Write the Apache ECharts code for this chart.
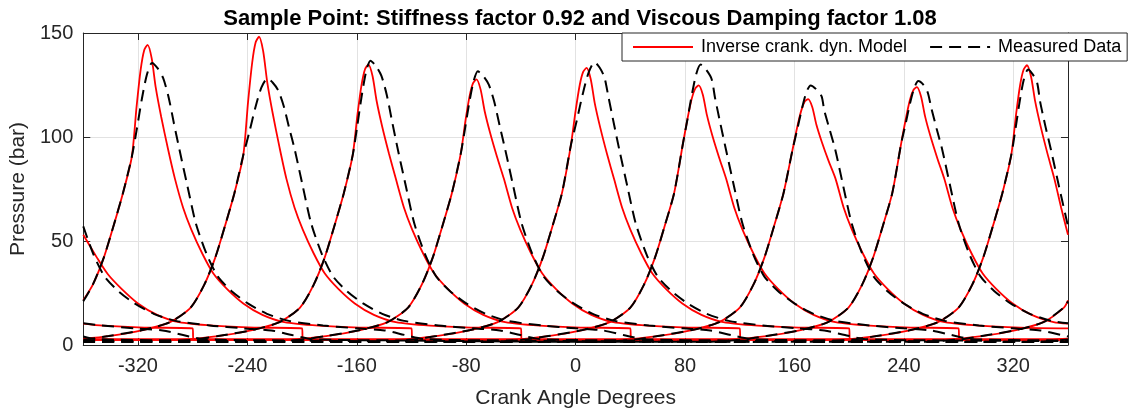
<!DOCTYPE html>
<html>
<head>
<meta charset="utf-8">
<script src="https://cdn.jsdelivr.net/npm/echarts@6/dist/echarts.min.js"></script>
<style>
html,body{margin:0;padding:0;background:#fff;}
#chart{width:1131px;height:414px;}
</style>
</head>
<body>
<div id="chart"></div>
<script>
// Tick labels
const xTicks = [-320, -240, -160, -80, 0, 80, 160, 240, 320];
const yTicks = [0, 50, 100, 150];

// Inverse crank. dyn. Model (one array per cylinder, [crank angle, pressure bar])
const model1 = [[-360,21.5],[-353,29],[-345,42],[-338,57],[-331,73],[-324.5,90.5],[-321,114.7],[-318,132.5],[-315.5,141.6],[-313,144.3],[-310,137.9],[-307,123.7],[-303,109.6],[-298,94.1],[-293,80],[-287,66],[-281,55.5],[-273,44],[-265,34.5],[-255,27],[-243,20],[-229,14.5],[-213,11],[-188,9.3],[-158,8.4],[-120,8.0],[-119.5,2.6],[267,2.6],[297,4.3],[322,7.2],[342,11],[357,18],[360,21.5]];
const model2 = [[-360,3.0],[-341.5,4.3],[-316.5,7.2],[-296.5,11],[-281.5,18],[-271.5,29],[-263.5,42],[-256.5,57],[-249.5,73],[-243,91.3],[-239.5,116.9],[-236.5,135.7],[-234,145.4],[-231.5,148.2],[-228.5,141.4],[-225.5,126.4],[-221.5,111.4],[-216.5,95.0],[-211.5,80],[-205.5,66],[-199.5,55.5],[-191.5,44],[-183.5,34.5],[-173.5,27],[-161.5,20],[-147.5,14.5],[-131.5,11],[-106.5,9.3],[-76.5,8.4],[-40,8.0],[-39.5,2.6],[348.5,2.6],[360,3.0]];
const model3 = [[-360,2.6],[-291.5,2.6],[-261.5,4.3],[-236.5,7.2],[-216.5,11],[-201.5,18],[-191.5,29],[-183.5,42],[-176.5,57],[-169.5,73],[-163,91.3],[-159.5,110.9],[-156.5,125.2],[-154,132.6],[-151.5,134.8],[-148.5,129.3],[-145.5,117.3],[-141.5,105.2],[-136.5,92.1],[-131.5,80],[-125.5,66],[-119.5,55.5],[-111.5,44],[-103.5,34.5],[-93.5,27],[-81.5,20],[-67.5,14.5],[-51.5,11],[-26.5,9.3],[3.5,8.4],[40,8.0],[40.5,2.6],[360,2.6]];
const model4 = [[-360,2.6],[-212.5,2.6],[-182.5,4.3],[-157.5,7.2],[-137.5,11],[-122.5,18],[-112.5,29],[-104.5,42],[-97.5,57],[-90.5,73],[-84,92],[-80.5,108.1],[-77.5,119.8],[-75,125.9],[-72.5,127.7],[-69.5,122.9],[-66.5,112.4],[-62.5,101.9],[-57.5,90.5],[-52.5,80],[-46.5,66],[-40.5,55.5],[-32.5,44],[-24.5,34.5],[-14.5,27],[-2.5,20],[11.5,14.5],[27.5,11],[52.5,9.3],[82.5,8.4],[120,8.0],[120.5,2.6],[360,2.6]];
const model5 = [[-360,2.6],[-132,2.6],[-102,4.3],[-77,7.2],[-57,11],[-42,18],[-32,29],[-24,42],[-17,57],[-10,73],[-3.5,96],[0,112.7],[3,125],[5.5,131.3],[8,133.2],[11,127.9],[14,116.2],[18,104.5],[23,91.7],[28,80],[34,66],[40,55.5],[48,44],[56,34.5],[66,27],[78,20],[92,14.5],[108,11],[133,9.3],[163,8.4],[200,8.0],[200.5,2.6],[360,2.6]];
const model6 = [[-360,2.6],[-50,2.6],[-20,4.3],[5,7.2],[25,11],[40,18],[50,29],[58,42],[65,57],[72,73],[78.5,97],[82,109.5],[85,118.7],[87.5,123.4],[90,124.8],[93,120.3],[96,110.5],[100,100.6],[105,89.9],[110,80],[116,66],[122,55.5],[130,44],[138,34.5],[148,27],[160,20],[174,14.5],[190,11],[215,9.3],[245,8.4],[280,8.0],[280.5,2.6],[360,2.6]];
const model7 = [[-360,2.6],[30,2.6],[60,4.3],[85,7.2],[105,11],[120,18],[130,29],[138,42],[145,57],[152,73],[158.5,93.6],[162,104.7],[165,112.8],[167.5,117],[170,118.2],[173,114.4],[176,106],[180,97.6],[185,88.4],[190,80],[196,66],[202,55.5],[210,44],[218,34.5],[228,27],[240,20],[254,14.5],[270,11],[295,9.3],[325,8.4],[360,8.0]];
const model8 = [[-360,10.3],[-345.5,9.3],[-315.5,8.4],[-280,8.0],[-279.5,2.6],[109.5,2.6],[139.5,4.3],[164.5,7.2],[184.5,11],[199.5,18],[209.5,29],[217.5,42],[224.5,57],[231.5,73],[238,96.8],[241.5,109],[244.5,118],[247,122.6],[249.5,124],[252.5,119.6],[255.5,109.9],[259.5,100.2],[264.5,89.7],[269.5,80],[275.5,66],[281.5,55.5],[289.5,44],[297.5,34.5],[307.5,27],[319.5,20],[333.5,14.5],[349.5,11],[360,10.3]];
const model9 = [[-360,53],[-350,42],[-342,34],[-332,27],[-320,20],[-306,14.5],[-290,11],[-265,9.3],[-235,8.4],[-200,8.0],[-199.5,2.6],[190,2.6],[220,4.3],[245,7.2],[265,11],[280,18],[290,29],[298,42],[305,57],[312,73],[318.5,91.3],[322,110.7],[325,125],[327.5,132.3],[330,134.5],[333,129],[336,117.1],[340,105.1],[345,92],[350,80],[355,66],[360,53]];

// Measured Data (one array per cylinder, [crank angle, pressure bar])
const meas1 = [[-360,21],[-353,29],[-345,42],[-338,57],[-331,73],[-324.5,90.5],[-320.8,104],[-317.1,118.5],[-313.4,130.2],[-309.7,135.6],[-305.7,133.1],[-301.7,128.5],[-297.7,119.4],[-293.7,106.5],[-289.7,94],[-283.7,76],[-277.7,58.5],[-269.7,43.5],[-261.7,33],[-251.7,26],[-239.7,20],[-225.7,15],[-209.7,11.6],[-184.7,9.4],[-159.7,8],[-139.7,7],[-124.7,4.8],[-109.7,2.8],[-49.7,2.2],[90.3,1.5],[257,1.6],[282,2.8],[297,4.3],[322,7.2],[342,11],[357,18],[360,21]];
const meas2 = [[-360,2.6],[-356.5,2.8],[-341.5,4.3],[-316.5,7.2],[-296.5,11],[-281.5,18],[-271.5,29],[-263.5,42],[-256.5,57],[-249.5,73],[-243,91.3],[-238.6,102.3],[-234.2,114.1],[-229.8,123.7],[-225.4,128.1],[-221.4,126.1],[-217.4,122.3],[-213.4,114.8],[-209.4,104.2],[-205.4,94],[-199.4,76],[-193.4,58.5],[-185.4,43.5],[-177.4,33],[-167.4,26],[-155.4,20],[-141.4,15],[-125.4,11.6],[-100.4,9.4],[-75.4,8],[-55.4,7],[-40.4,4.8],[-25.4,2.8],[34.6,2.2],[174.6,1.5],[338.5,1.6],[360,2.6]];
const meas3 = [[-360,1.5],[-301.5,1.6],[-276.5,2.8],[-261.5,4.3],[-236.5,7.2],[-216.5,11],[-201.5,18],[-191.5,29],[-183.5,42],[-176.5,57],[-169.5,73],[-163,91.3],[-159.75,104.9],[-156.5,119.4],[-153.25,131.3],[-150,136.7],[-146,134.1],[-142,129.4],[-138,120],[-134,106.8],[-130,94],[-124,76],[-118,58.5],[-110,43.5],[-102,33],[-92,26],[-80,20],[-66,15],[-50,11.6],[-25,9.4],[0,8],[20,7],[35,4.8],[50,2.8],[110,2.2],[250,1.5],[360,1.5]];
const meas4 = [[-360,1.5],[-222.5,1.6],[-197.5,2.8],[-182.5,4.3],[-157.5,7.2],[-137.5,11],[-122.5,18],[-112.5,29],[-104.5,42],[-97.5,57],[-90.5,73],[-84,92],[-80.9,103.9],[-77.75,116.6],[-74.6,126.8],[-71.5,131.6],[-67.5,129.3],[-63.5,125.2],[-59.5,116.9],[-55.5,105.3],[-51.5,94],[-45.5,76],[-39.5,58.5],[-31.5,43.5],[-23.5,33],[-13.5,26],[-1.5,20],[12.5,15],[28.5,11.6],[53.5,9.4],[78.5,8],[98.5,7],[113.5,4.8],[128.5,2.8],[188.5,2.2],[328.5,1.5],[360,1.5]];
const meas5 = [[-360,1.9],[-306.1,1.5],[-142,1.6],[-117,2.8],[-102,4.3],[-77,7.2],[-57,11],[-42,18],[-32,29],[-24,42],[-17,57],[-10,73],[-3.5,96],[0.85,108],[5.2,120.7],[9.55,131.1],[13.9,135.9],[17.5,133.4],[21,128.8],[23.9,119.6],[27.9,106.6],[31.9,94],[37.9,76],[43.9,58.5],[51.9,43.5],[59.9,33],[69.9,26],[81.9,20],[95.9,15],[111.9,11.6],[136.9,9.4],[161.9,8],[181.9,7],[196.9,4.8],[211.9,2.8],[271.9,2.2],[360,1.9]];
const meas6 = [[-360,2.1],[-228.6,1.5],[-60,1.6],[-35,2.8],[-20,4.3],[5,7.2],[25,11],[40,18],[50,29],[58,42],[65,57],[72,73],[78.5,97],[81.7,108.3],[85,120.4],[88.2,130.3],[91.4,134.8],[95.4,132.4],[99.4,127.9],[101.9,118.9],[105.9,106.2],[109.9,94],[115.9,76],[121.9,58.5],[129.9,43.5],[137.9,33],[147.9,26],[159.9,20],[173.9,15],[189.9,11.6],[214.9,9.4],[239.9,8],[259.9,7],[274.9,4.8],[289.9,2.8],[349.9,2.2],[360,2.1]];
const meas7 = [[-360,4.1],[-350.2,2.8],[-290.2,2.2],[-150.2,1.5],[20,1.6],[45,2.8],[60,4.3],[85,7.2],[105,11],[120,18],[130,29],[138,42],[145,57],[152,73],[158.5,93.6],[161.8,103],[165.2,112.9],[168.5,121.1],[171.8,124.8],[175.8,123],[179.8,119.6],[181.8,112.8],[185.8,103.4],[189.8,94],[195.8,76],[201.8,58.5],[209.8,43.5],[217.8,33],[227.8,26],[239.8,20],[253.8,15],[269.8,11.6],[294.8,9.4],[319.8,8],[339.8,7],[354.8,4.8],[360,4.1]];
const meas8 = [[-360,10.5],[-347,9.4],[-322,8],[-302,7],[-287,4.8],[-272,2.8],[-212,2.2],[-72,1.5],[99.5,1.6],[124.5,2.8],[139.5,4.3],[164.5,7.2],[184.5,11],[199.5,18],[209.5,29],[217.5,42],[224.5,57],[231.5,73],[238,96.8],[241.1,105.8],[244.25,115.5],[247.4,123.3],[250.5,126.9],[254.5,124.9],[257.5,121.3],[260,114.1],[264,103.9],[268,94],[274,76],[280,58.5],[288,43.5],[296,33],[306,26],[318,20],[332,15],[348,11.6],[360,10.5]];
const meas9 = [[-360,57],[-352.5,43.5],[-344.5,33],[-334.5,26],[-322.5,20],[-308.5,15],[-292.5,11.6],[-267.5,9.4],[-242.5,8],[-222.5,7],[-207.5,4.8],[-192.5,2.8],[-132.5,2.2],[7.5,1.5],[180,1.6],[205,2.8],[220,4.3],[245,7.2],[265,11],[280,18],[290,29],[298,42],[305,57],[312,73],[318.5,91.3],[321.55,103.6],[324.6,116.8],[327.65,127.5],[330.7,132.4],[334.2,130.1],[337.5,125.9],[339.5,117.4],[343.5,105.1],[347.5,94],[353.5,76],[359.5,58.5],[360,57]];

const modelSets = [model1, model2, model3, model4, model5, model6, model7, model8, model9];
const measSets = [meas1, meas2, meas3, meas4, meas5, meas6, meas7, meas8, meas9];

const MODEL_NAME = 'Inverse crank. dyn. Model';
const MEAS_NAME = 'Measured Data';
const FONT = '"Liberation Sans", Arial, Helvetica, sans-serif';
const AXIS_COLOR = '#262626';

const series = [];
modelSets.forEach(function (d) {
  series.push({
    name: MODEL_NAME, type: 'line', data: d, symbol: 'none', showSymbol: false,
    smooth: 0.25, xAxisIndex: 0, yAxisIndex: 0,
    lineStyle: { color: '#ff0000', width: 1.8 }, itemStyle: { color: '#ff0000' },
    emphasis: { disabled: true }, animation: false
  });
});
measSets.forEach(function (d) {
  series.push({
    name: MEAS_NAME, type: 'line', data: d, symbol: 'none', showSymbol: false,
    smooth: 0.25, xAxisIndex: 0, yAxisIndex: 0,
    lineStyle: { color: '#000000', width: 2, type: [12, 7] }, itemStyle: { color: '#000000' },
    emphasis: { disabled: true }, animation: false
  });
});

const chart = echarts.init(document.getElementById('chart'), null, { renderer: 'canvas' });
chart.setOption({
  backgroundColor: '#ffffff',
  animation: false,
  textStyle: { fontFamily: FONT },
  title: {
    text: 'Sample Point: Stiffness factor 0.92 and Viscous Damping factor 1.08',
    left: 575, top: 3, textAlign: 'center',
    textStyle: { fontFamily: FONT, fontSize: 22, fontWeight: 'bold', color: '#000' }
  },
  legend: {
    data: [MODEL_NAME, MEAS_NAME],
    left: 622, top: 33,
    padding: [5, 6, 5, 10],
    itemWidth: 60, itemHeight: 14, itemGap: 22,
    backgroundColor: '#ffffff', borderColor: AXIS_COLOR, borderWidth: 1,
    itemStyle: { opacity: 0, color: 'rgba(0,0,0,0)', borderWidth: 0 },
    textStyle: { fontFamily: FONT, fontSize: 18, color: '#000', padding: [0, 0, 0, 3] },
    selectedMode: false
  },
  grid: { left: 83, right: 63, top: 33, bottom: 65, containLabel: false },
  xAxis: [
    {
      type: 'value', min: -360, max: 360, position: 'bottom',
      name: 'Crank Angle Degrees', nameLocation: 'middle', nameGap: 43,
      nameTextStyle: { fontFamily: FONT, fontSize: 21, color: AXIS_COLOR },
      axisLine: { show: true, onZero: false, lineStyle: { color: AXIS_COLOR, width: 1 } },
      axisTick: { show: true, inside: true, length: 7, customValues: xTicks, lineStyle: { color: AXIS_COLOR } },
      axisLabel: { show: true, customValues: xTicks, fontFamily: FONT, fontSize: 20, color: AXIS_COLOR, margin: 11 },
      splitLine: { show: true, lineStyle: { color: '#e2e2e2', width: 1 } }
    },
    {
      type: 'value', min: -360, max: 360, position: 'top',
      axisLine: { show: true, onZero: false, lineStyle: { color: AXIS_COLOR, width: 1 } },
      axisTick: { show: true, inside: true, length: 7, customValues: xTicks, lineStyle: { color: AXIS_COLOR } },
      axisLabel: { show: false, customValues: xTicks },
      splitLine: { show: false }
    }
  ],
  yAxis: [
    {
      type: 'value', min: 0, max: 150, interval: 50, position: 'left',
      name: 'Pressure (bar)', nameLocation: 'middle', nameGap: 42, nameRotate: 90,
      nameTextStyle: { fontFamily: FONT, fontSize: 21, color: AXIS_COLOR },
      axisLine: { show: true, onZero: false, lineStyle: { color: AXIS_COLOR, width: 1 } },
      axisTick: { show: true, inside: true, length: 7, customValues: yTicks, lineStyle: { color: AXIS_COLOR } },
      axisLabel: { show: true, customValues: yTicks, fontFamily: FONT, fontSize: 20, color: AXIS_COLOR, margin: 10 },
      splitLine: { show: true, lineStyle: { color: '#e2e2e2', width: 1 } }
    },
    {
      type: 'value', min: 0, max: 150, interval: 50, position: 'right',
      axisLine: { show: true, onZero: false, lineStyle: { color: AXIS_COLOR, width: 1 } },
      axisTick: { show: true, inside: true, length: 7, lineStyle: { color: AXIS_COLOR } },
      axisLabel: { show: false },
      splitLine: { show: false }
    }
  ],
  series: series
});
</script>
</body>
</html>
